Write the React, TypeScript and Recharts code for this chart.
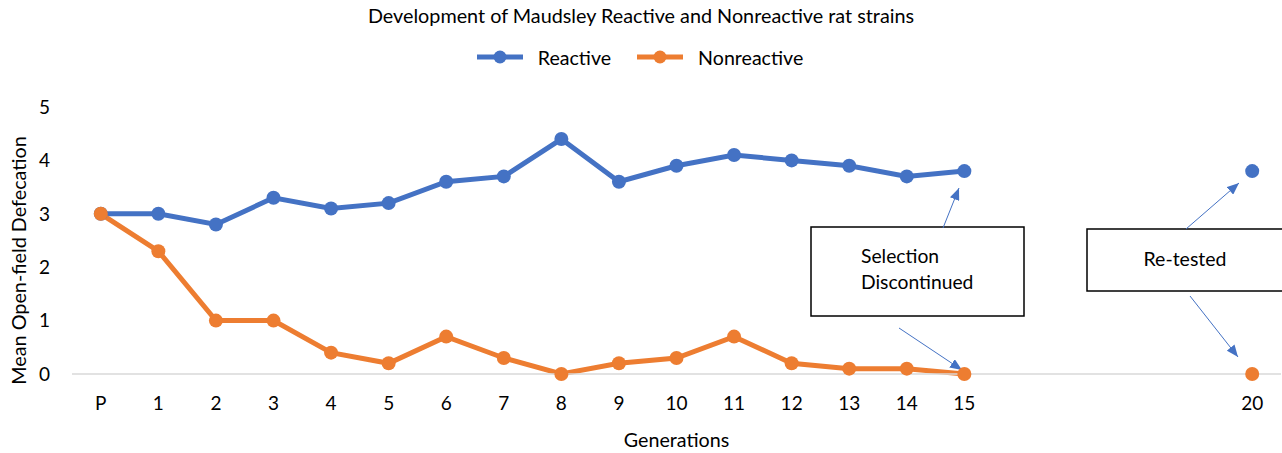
import React from 'react';
import { LineChart, Line, XAxis, YAxis, Legend, Customized } from 'recharts';

const FONT = 'Lato, "Open Sans", sans-serif';
const BLUE = '#4472C4';
const ORANGE = '#ED7D31';

const generationLabels = ['P', '1', '2', '3', '4', '5', '6', '7', '8', '9', '10', '11', '12', '13', '14', '15', '20'];
const generationIndex = [0, 1, 2, 3, 4, 5, 6, 7, 8, 9, 10, 11, 12, 13, 14, 15, 20];
const reactive = [3.0, 3.0, 2.8, 3.3, 3.1, 3.2, 3.6, 3.7, 4.4, 3.6, 3.9, 4.1, 4.0, 3.9, 3.7, 3.8, 3.8];
const nonreactive = [3.0, 2.3, 1.0, 1.0, 0.4, 0.2, 0.7, 0.3, 0.0, 0.2, 0.3, 0.7, 0.2, 0.1, 0.1, 0.0, 0.0];
const yTicks = [0, 1, 2, 3, 4, 5];

type Row = { gen: number; label: string; reactive: number | null; nonreactive: number | null };
const data: Row[] = [];
generationIndex.forEach((g, i) => {
  if (i > 0 && g - generationIndex[i - 1] > 1) {
    // gap: selection discontinued, break the line
    data.push({ gen: generationIndex[i - 1] + 1, label: '', reactive: null, nonreactive: null });
  }
  data.push({ gen: g, label: generationLabels[i], reactive: reactive[i], nonreactive: nonreactive[i] });
});

const labelFor = (v: number) => {
  const i = generationIndex.indexOf(v);
  return i >= 0 ? generationLabels[i] : '';
};

const LegendIcon = ({ color }: { color: string }) => (
  <svg width={46} height={14} style={{ display: 'block' }}>
    <line x1={0} y1={7} x2={46} y2={7} stroke={color} strokeWidth={5} strokeLinecap="round" />
    <circle cx={23} cy={7} r={6.5} fill={color} />
  </svg>
);

const renderLegend = () => (
  <div
    style={{
      display: 'flex',
      justifyContent: 'center',
      alignItems: 'center',
      height: 26,
      fontFamily: FONT,
      fontSize: 19.6,
      color: '#000',
    }}
  >
    <span style={{ display: 'inline-flex', alignItems: 'center', marginLeft: -2 }}>
      <LegendIcon color={BLUE} />
      <span style={{ marginLeft: 15 }}>Reactive</span>
    </span>
    <span style={{ display: 'inline-flex', alignItems: 'center', marginLeft: 26 }}>
      <LegendIcon color={ORANGE} />
      <span style={{ marginLeft: 15 }}>Nonreactive</span>
    </span>
  </div>
);

const Annotations = () => (
  <g>
    <defs>
      <marker id="arrowHead" markerWidth={12} markerHeight={10} refX={12} refY={5} orient="auto" markerUnits="userSpaceOnUse">
        <path d="M0,0 L12,5 L0,10 Z" fill={BLUE} />
      </marker>
    </defs>
    <text x={641} y={23} textAnchor="middle" fontFamily={FONT} fontSize={19.8} fill="#000">
      Development of Maudsley Reactive and Nonreactive rat strains
    </text>
    <rect x={811} y={227} width={213} height={89} fill="#fff" stroke="#000" strokeWidth={1.5} />
    <text x={861} y={263} fontFamily={FONT} fontSize={19.3} fill="#000">Selection</text>
    <text x={861} y={289} fontFamily={FONT} fontSize={19.3} fill="#000">Discontinued</text>
    <rect x={1087} y={229} width={200} height={62} fill="#fff" stroke="#000" strokeWidth={1.5} />
    <text x={1185} y={266} textAnchor="middle" fontFamily={FONT} fontSize={19.5} fill="#000">Re-tested</text>
    <line x1={943} y1={228} x2={959} y2={188} stroke={BLUE} strokeWidth={1} markerEnd="url(#arrowHead)" />
    <line x1={899} y1={328} x2={962} y2={370} stroke={BLUE} strokeWidth={1} markerEnd="url(#arrowHead)" />
    <line x1={1186} y1={229} x2={1239} y2={183} stroke={BLUE} strokeWidth={1} markerEnd="url(#arrowHead)" />
    <line x1={1190} y1={296} x2={1238} y2={357} stroke={BLUE} strokeWidth={1} markerEnd="url(#arrowHead)" />
  </g>
);

export default function App() {
  return (
    <div style={{ position: 'absolute', left: 0, top: 0, width: 1282, height: 453, background: '#fff' }}>
      <LineChart width={1282} height={453} data={data} margin={{ top: 81, right: 1, bottom: 0, left: 0 }}>
        <XAxis
          dataKey="gen"
          type="number"
          domain={[-0.5, 20.5]}
          ticks={generationIndex}
          tickFormatter={labelFor}
          interval={0}
          height={79}
          tickLine={false}
          tickMargin={17}
          axisLine={{ stroke: '#D9D9D9', strokeWidth: 1.5 }}
          tick={{ fill: '#000', fontSize: 19, fontFamily: FONT }}
          label={{ value: 'Generations', position: 'insideBottom', offset: 6, style: { fill: '#000', fontSize: 19.7, fontFamily: FONT } }}
        />
        <YAxis
          domain={[0, 5]}
          ticks={yTicks}
          width={72}
          tickLine={false}
          axisLine={false}
          tickMargin={16}
          tick={{ fill: '#000', fontSize: 19, fontFamily: FONT }}
          label={{ value: 'Mean Open-field Defecation', angle: -90, position: 'center', dx: -17, dy: 20, style: { fill: '#000', fontSize: 19.8, fontFamily: FONT, textAnchor: 'middle' } }}
        />
        <Legend verticalAlign="top" content={renderLegend} wrapperStyle={{ top: 44, left: 0, width: 1282 }} />
        <Line
          type="linear"
          dataKey="reactive"
          name="Reactive"
          stroke={BLUE}
          strokeWidth={5}
          dot={{ r: 7, fill: BLUE, stroke: BLUE, strokeWidth: 0 }}
          activeDot={false}
          isAnimationActive={false}
        />
        <Line
          type="linear"
          dataKey="nonreactive"
          name="Nonreactive"
          stroke={ORANGE}
          strokeWidth={5}
          dot={{ r: 7, fill: ORANGE, stroke: ORANGE, strokeWidth: 0 }}
          activeDot={false}
          isAnimationActive={false}
        />
        <Customized component={Annotations} />
      </LineChart>
    </div>
  );
}
